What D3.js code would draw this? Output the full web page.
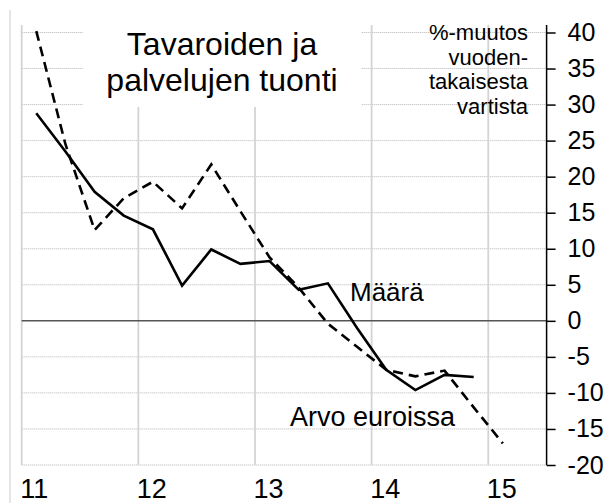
<!DOCTYPE html>
<html>
<head>
<meta charset="utf-8">
<script src="https://cdn.jsdelivr.net/npm/d3@7"></script>
<style>
  body { margin: 0; background: #fff; }
  text { font-family: "Liberation Sans", Arial, sans-serif; fill: #000; }
</style>
</head>
<body>
<div id="container"></div>
<script>
/* DATA */
var quarters = ['11Q1','11Q2','11Q3','11Q4','12Q1','12Q2','12Q3','12Q4',
                '13Q1','13Q2','13Q3','13Q4','14Q1','14Q2','14Q3','14Q4','15Q1']
var maara = [28.8, 23.5, 17.9, 14.6, 12.7, 4.9, 9.9, 7.9, 8.3, 4.3, 5.2, -1.0, -6.8, -9.6, -7.5, -7.8]
var arvo  = [40.2, 24.5, 12.6, 17.0, 19.3, 15.6, 21.7, 15.2, 8.8, 4.6, -0.4, -3.6, -6.8, -7.7, -6.9, -12.0, -17.0]
var years = [11, 12, 13, 14, 15]
var yTicks = [-20, -15, -10, -5, 0, 5, 10, 15, 20, 25, 30, 35, 40]
var titleLines = ['Tavaroiden ja', 'palvelujen tuonti']
var unitLines = ['%-muutos', 'vuoden-', 'takaisesta', 'vartista']

/* SET UP */
var width = 611, height = 503
var svg = d3.select('#container').append('svg')
    .attr('width', width).attr('height', height)

var x = d3.scaleLinear().domain([11, 15.5]).range([21.7, 546.6])
var y = d3.scaleLinear().domain([-20, 40]).range([465, 32.5])
var plotTop = 25

// quarter label -> position in years (middle of the quarter)
function qx(q) { return +q.slice(0, 2) + (+q.slice(3) - 0.5) / 4 }

// left frame line
svg.append('line').attr('x1', 10).attr('x2', 10).attr('y1', 10).attr('y2', height)
    .attr('stroke', '#dcdcdc').attr('stroke-width', 1.5)

// horizontal dotted grid
svg.append('g').selectAll('line').data(yTicks.filter(function(d) { return d != 0 }))
    .enter().append('line')
    .attr('x1', x(11)).attr('x2', x(15.5))
    .attr('y1', function(d) { return y(d) }).attr('y2', function(d) { return y(d) })
    .attr('stroke', '#b4b4b4').attr('stroke-width', 1).attr('stroke-dasharray', '1,1')

// vertical year lines
svg.append('g').selectAll('line').data(years)
    .enter().append('line')
    .attr('x1', function(d) { return x(d) }).attr('x2', function(d) { return x(d) })
    .attr('y1', plotTop).attr('y2', y(-20))
    .attr('stroke', '#d4d4d4').attr('stroke-width', 1.8)

// title box covers grid
svg.append('rect').attr('x', 83).attr('y', 0).attr('width', 278).attr('height', 107).attr('fill', '#fff')
svg.append('g').selectAll('text').data(titleLines)
    .enter().append('text')
    .attr('x', 222).attr('y', function(d, i) { return 55 + i * 35.5 })
    .attr('text-anchor', 'middle').style('font-size', '32px')
    .text(function(d) { return d })

// zero line
svg.append('line').attr('x1', x(11)).attr('x2', x(15.5)).attr('y1', y(0)).attr('y2', y(0))
    .attr('stroke', '#555').attr('stroke-width', 1.5)

// y axis on the right
var yAxis = d3.axisRight(y).tickValues(yTicks).tickSizeInner(9).tickSizeOuter(0).tickPadding(12)
    .tickFormat(function(d) { return String(d) })
var gy = svg.append('g').attr('transform', 'translate(' + x(15.5) + ',0)').call(yAxis)
gy.select('.domain').remove()
gy.append('line').attr('x1', 0).attr('x2', 0).attr('y1', plotTop).attr('y2', y(-20))
    .attr('stroke', '#000').attr('stroke-width', 1.5)
gy.selectAll('.tick line').attr('stroke', '#000').attr('stroke-width', 1.5)
gy.selectAll('.tick text').attr('dy', 8).style('font-size', '25px')
    .style('font-family', '"Liberation Sans", Arial, sans-serif').attr('fill', '#000')

// x axis labels, left aligned at year lines
var xAxis = d3.axisBottom(x).tickValues(years).tickSize(0).tickFormat(function(d) { return String(d) })
var gx = svg.append('g').attr('transform', 'translate(0,' + y(-20) + ')').call(xAxis)
gx.select('.domain').remove()
gx.selectAll('.tick text').attr('text-anchor', 'start').attr('x', -2).attr('y', 33).attr('dy', 0)
    .style('font-size', '27px').style('font-family', '"Liberation Sans", Arial, sans-serif').attr('fill', '#000')

// unit label
svg.append('g').selectAll('text').data(unitLines)
    .enter().append('text')
    .attr('x', 528).attr('y', function(d, i) { return 40 + i * 24.6 })
    .attr('text-anchor', 'end').style('font-size', '22px')
    .text(function(d) { return d })

// series
var line = d3.line().x(function(d) { return x(d[0]) }).y(function(d) { return y(d[1]) })
var maaraPts = maara.map(function(v, i) { return [qx(quarters[i]), v] })
var arvoPts = arvo.map(function(v, i) { return [qx(quarters[i]), v] })

svg.append('path').datum(arvoPts).attr('d', line)
    .attr('fill', 'none').attr('stroke', '#000').attr('stroke-width', 2.6)
    .attr('stroke-dasharray', '10,6')
svg.append('path').datum(maaraPts).attr('d', line)
    .attr('fill', 'none').attr('stroke', '#000').attr('stroke-width', 2.6)
    .attr('stroke-linejoin', 'miter')

// series labels
svg.append('text').attr('x', 350).attr('y', 301).style('font-size', '26px').text('Määrä')
svg.append('text').attr('x', 290).attr('y', 426).style('font-size', '27px').text('Arvo euroissa')
</script>
</body>
</html>
